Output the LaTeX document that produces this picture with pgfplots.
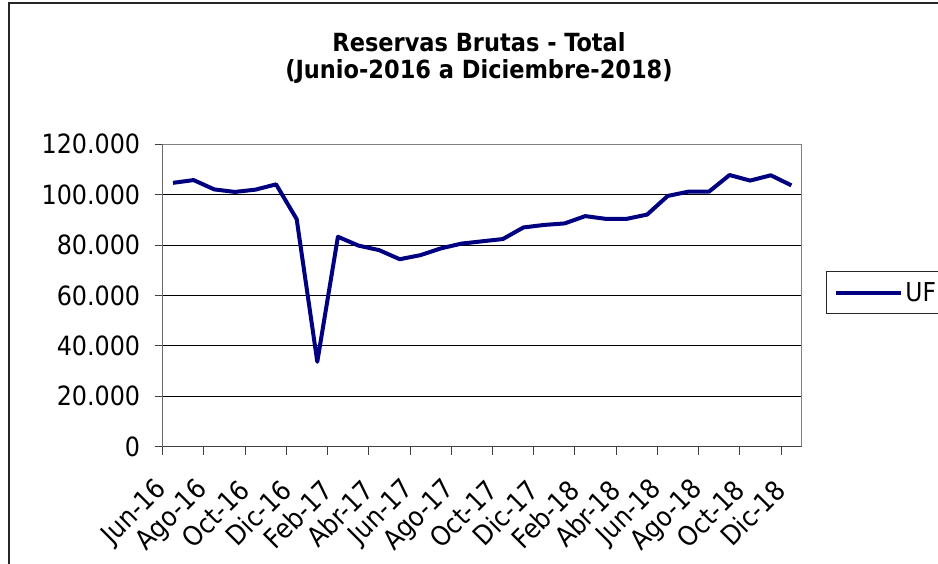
\documentclass[border=0pt]{standalone}
\usepackage{fontspec}
\setmainfont{DejaVu Sans Condensed}
\usepackage{pgfplots}
\pgfplotsset{compat=1.18}
\definecolor{navyline}{RGB}{0,0,128}
\definecolor{framegray}{RGB}{128,128,128}
\definecolor{axisdark}{RGB}{64,64,64}
\pgfplotstableread{
x y
0 104700
1 105800
2 102100
3 101100
4 102000
5 104100
6 90300
7 33700
8 83300
9 79800
10 78000
11 74400
12 76000
13 78700
14 80600
15 81500
16 82400
17 87000
18 88000
19 88600
20 91500
21 90400
22 90400
23 92100
24 99500
25 101200
26 101200
27 107800
28 105600
29 107700
30 103700
}\datatable
\begin{document}
\begin{tikzpicture}[x=1pt,y=1pt]
\path[use as bounding box] (0,0) rectangle (938,564);
\draw[line width=1.5pt, black!85] (9,-20) -- (9,561) -- (960,561);
\node[font=\fontsize{25}{30}\selectfont\bfseries] at (479,522) {Reservas Brutas - Total};
\node[font=\fontsize{25}{30}\selectfont\bfseries] at (479,492) {(Junio-2016 a Diciembre-2018)};
\begin{axis}[
  at={(162.7pt,117.3pt)}, anchor=south west,
  scale only axis, width=639pt, height=302.4pt,
  xmin=-0.5, xmax=30.5, ymin=0, ymax=120000,
  xtick={-0.5,1.5,...,29.5},
  xticklabels={Jun-16,Ago-16,Oct-16,Dic-16,Feb-17,Abr-17,Jun-17,Ago-17,Oct-17,Dic-17,Feb-18,Abr-18,Jun-18,Ago-18,Oct-18,Dic-18},
  ytick={0,20000,...,120000},
  scaled y ticks=false,
  tick pos=left,
  tick align=outside,
  major tick length=8pt,
  tick style={axisdark, line width=1pt},
  ymajorgrids,
  grid style={black, line width=0.9pt},
  axis line style={framegray, line width=1.5pt},
  tick label style={font=\fontsize{26.5}{31}\selectfont},
  xticklabel style={font=\fontsize{27}{32}\selectfont, xshift=2pt, yshift=-28pt, rotate=45, anchor=east},
  yticklabel style={xshift=-11pt, /pgf/number format/.cd, fixed, 1000 sep={.}, assume math mode=true},
  legend style={at={(1.038,0.581)}, anchor=north west, draw=black!85, line width=1pt,
    font=\fontsize{26}{30}\selectfont, inner xsep=8pt, inner ysep=9pt},
  legend image code/.code={\draw[#1, line width=4pt] (0pt,0pt) -- (65pt,0pt);},
]
\addplot[navyline, line width=4pt, line join=round] table[x=x,y=y] {\datatable};
\addlegendentry{UF}
\draw[axisdark, line width=1.5pt] (rel axis cs:0,1) -- (rel axis cs:0,0) -- (rel axis cs:1,0);
\end{axis}
\end{tikzpicture}
\end{document}
